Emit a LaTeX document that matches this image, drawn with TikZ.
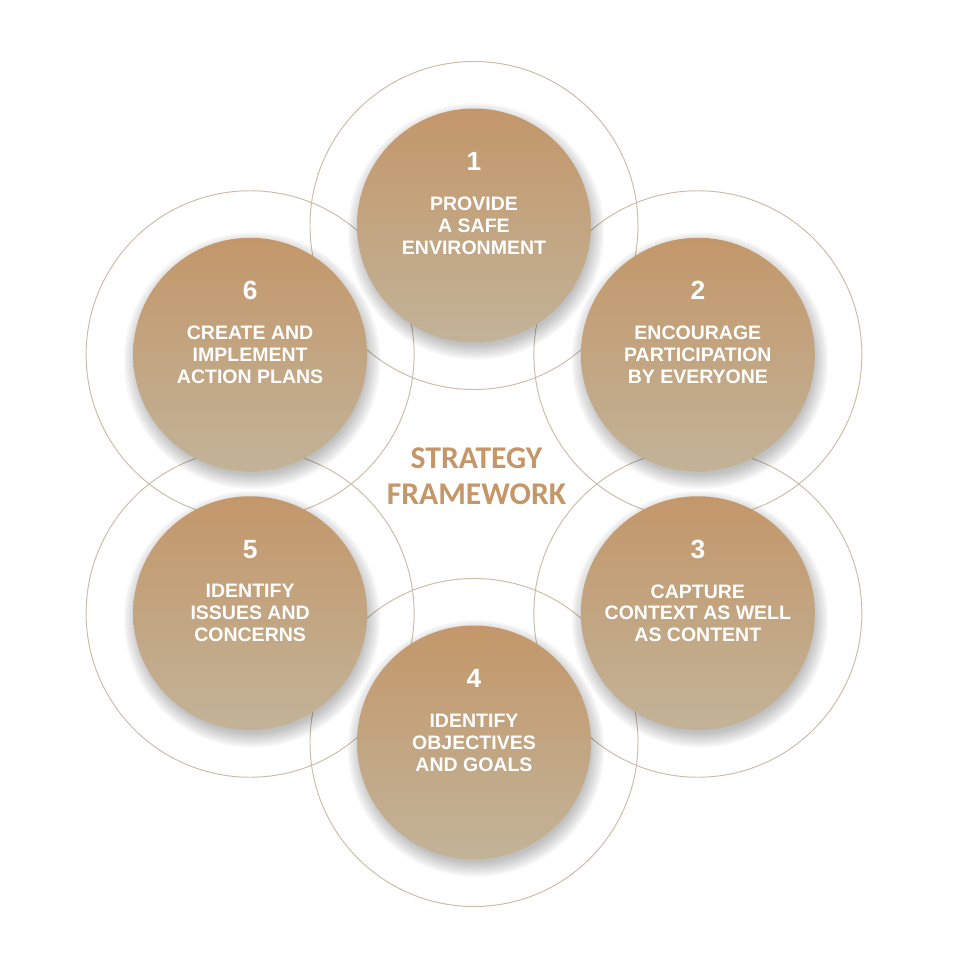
\documentclass[tikz,border=0pt]{standalone}
\usepackage{fontspec}
\setmainfont{Liberation Sans}
\newfontfamily\titlefont{Carlito}
\usepackage{tikz}
\definecolor{sf@top}{RGB}{195, 151, 106}
\definecolor{sf@bottom}{RGB}{194, 179, 152}
\definecolor{sf@ring}{RGB}{203, 188, 168}
\definecolor{sf@title}{RGB}{196, 150, 104}

\begin{document}
\begin{tikzpicture}[
  ring/.style  = {draw=sf@ring, line width=0.55pt},
  stage/.style = {circle, minimum size=4.68cm, inner sep=0pt,
                  top color=sf@top, bottom color=sf@bottom, draw=none},
  num/.style   = {anchor=base, text=white, font=\bfseries\fontsize{15}{18}\selectfont},
  lbl/.style   = {align=center, text=white, inner sep=0pt,
                  font=\bfseries\fontsize{11.1}{12.5}\selectfont},
  title/.style = {align=center, text=sf@title, inner sep=0pt,
                  font=\titlefont\bfseries\fontsize{18}{20.6}\selectfont},
]
  \useasboundingbox (-9.48,-9.42) rectangle (9.62,9.68);

  \coordinate (p1) at (90:5.17);
  \coordinate (p2) at (30:5.17);
  \coordinate (p3) at (-30:5.17);
  \coordinate (p4) at (-90:5.17);
  \coordinate (p5) at (210:5.17);
  \coordinate (p6) at (150:5.17);

  % outer rings
  \foreach \i in {1,...,6}
    \draw[ring] (p\i) circle (3.28);

  % soft shadows
  \foreach \i in {1,...,6}
    \foreach \k in {0,...,9}
      \fill[black, opacity=0.028] ([xshift=0.04cm, yshift=-0.12cm]p\i)
        circle ({2.28 + \k*0.032});

  \node[stage] (s1) at (p1) {};
  \node[stage] (s2) at (p2) {};
  \node[stage] (s3) at (p3) {};
  \node[stage] (s4) at (p4) {};
  \node[stage] (s5) at (p5) {};
  \node[stage] (s6) at (p6) {};

  \node[num] (n1) at ([yshift=1.1cm]s1.center) {1};
  \node[num] (n2) at ([yshift=1.1cm]s2.center) {2};
  \node[num] (n3) at ([yshift=1.1cm]s3.center) {3};
  \node[num] (n4) at ([yshift=1.1cm]s4.center) {4};
  \node[num] (n5) at ([yshift=1.1cm]s5.center) {5};
  \node[num] (n6) at ([yshift=1.1cm]s6.center) {6};

  \node[lbl] (t1) at (s1.center) {PROVIDE\\A SAFE\\ENVIRONMENT};
  \node[lbl] (t2) at (s2.center) {ENCOURAGE\\PARTICIPATION\\BY EVERYONE};
  \node[lbl] (t3) at (s3.center) {CAPTURE\\CONTEXT AS WELL\\AS CONTENT};
  \node[lbl] (t4) at (s4.center) {IDENTIFY\\OBJECTIVES\\AND GOALS};
  \node[lbl] (t5) at (s5.center) {IDENTIFY\\ISSUES AND\\CONCERNS};
  \node[lbl] (t6) at (s6.center) {CREATE AND\\IMPLEMENT\\ACTION PLANS};

  \node[title] (hub) at (0.05,0.16) {STRATEGY\\FRAMEWORK};
\end{tikzpicture}
\end{document}
